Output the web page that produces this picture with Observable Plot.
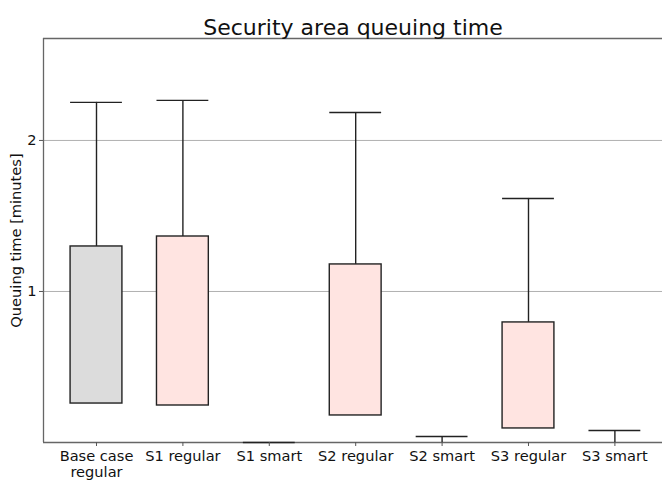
<!DOCTYPE html>
<html>
<head>
<meta charset="utf-8">
<script src="https://cdn.jsdelivr.net/npm/d3@7"></script>
<script src="https://cdn.jsdelivr.net/npm/@observablehq/plot@0.6"></script>
<style>
  body { margin: 0; background: #fff; }
  svg { font-family: "DejaVu Sans", sans-serif; }
</style>
</head>
<body>
<div id="chart"></div>
<script>
const title = "Security area queuing time";
const yLabel = "Queuing time [minutes]";
const categories = ["Base case\nregular", "S1 regular", "S1 smart", "S2 regular", "S2 smart", "S3 regular", "S3 smart"];
const q1 = [0.258, 0.245, 0, 0.179, 0, 0.093, 0];
const q3 = [1.298, 1.364, 0, 1.179, 0, 0.795, 0];
const whiskerHigh = [2.252, 2.265, 0, 2.185, 0.04, 1.616, 0.079];
const fills = ["#dcdcdc", "#ffe4e1", "#ffe4e1", "#ffe4e1", "#ffe4e1", "#ffe4e1", "#ffe4e1"];
const yTicks = [1, 2];

const data = categories.map((c, i) => ({
  pos: i + 1, name: c, q1: q1[i], q3: q3[i], hi: whiskerHigh[i], fill: fills[i]
}));

const xDomain = [0.3866, 7.551];
const yDomain = [0, 2.675];
const half = 0.3;

const chart = Plot.plot({
  width: 662,
  height: 480,
  marginLeft: 43,
  marginRight: 0,
  marginTop: 38,
  marginBottom: 38,
  style: { fontFamily: "DejaVu Sans, sans-serif", background: "#fff" },
  x: { type: "linear", domain: xDomain },
  y: { type: "linear", domain: yDomain },
  marks: [
    Plot.gridY(yTicks, { stroke: "#b0b0b0", strokeOpacity: 1 }),
    Plot.ruleX([xDomain[0]], { stroke: "#666", strokeWidth: 1.3 }),
    Plot.ruleY([yDomain[1]], { stroke: "#666", strokeWidth: 1.3 }),
    Plot.ruleY([yDomain[0]], { stroke: "#666", strokeWidth: 1.3 }),
    Plot.ruleX(data, { x: "pos", y1: "q3", y2: "hi", stroke: "#222", strokeWidth: 1.4 }),
    Plot.ruleY(data, { x1: d => d.pos - half, x2: d => d.pos + half, y: "hi", stroke: "#222", strokeWidth: 1.4 }),
    Plot.rect(data, { x1: d => d.pos - half, x2: d => d.pos + half, y1: "q1", y2: "q3", fill: "fill", stroke: "#222", strokeWidth: 1.4 }),
    Plot.axisX(data.map(d => d.pos), {
      tickFormat: p => categories[p - 1], tickSize: 4, tickPadding: 3, fontSize: 14.6,
      lineHeight: 1.1, stroke: "#555", fill: "#111", label: null
    }),
    Plot.axisY(yTicks, {
      tickFormat: d => String(d), tickSize: 4, tickPadding: 3, fontSize: 14.6, stroke: "#555", fill: "#111",
      label: yLabel, labelAnchor: "center", labelArrow: "none", labelOffset: 33
    }),
    Plot.text([title], { frameAnchor: "top", dy: -19, fontSize: 22, fill: "#111" })
  ]
});
document.getElementById("chart").appendChild(chart);
</script>
</body>
</html>
